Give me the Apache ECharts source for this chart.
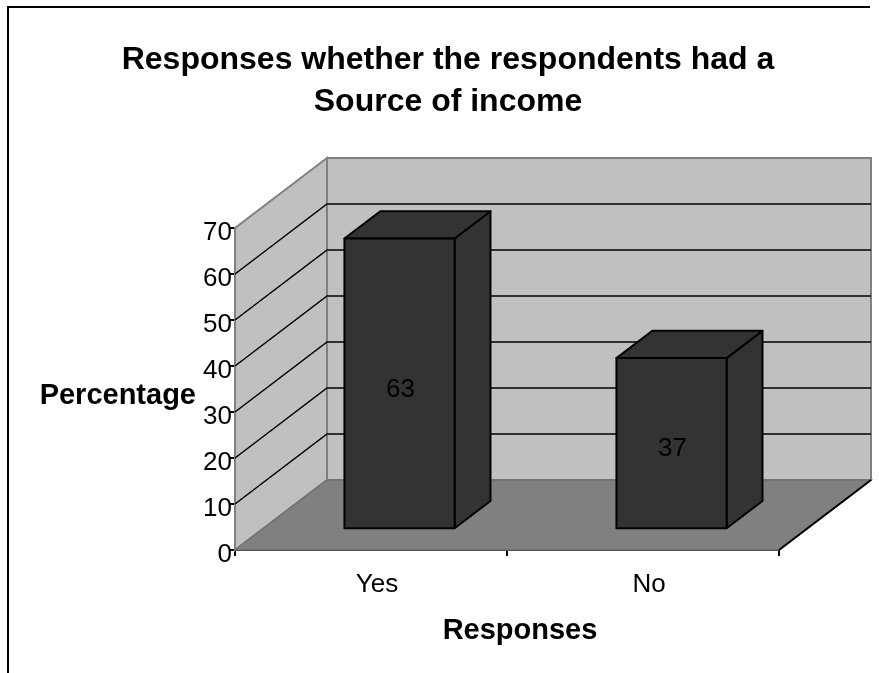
<!DOCTYPE html>
<html>
<head>
<meta charset="utf-8">
<script src="https://cdn.jsdelivr.net/npm/echarts@6/dist/echarts.min.js"></script>
<style>
  html, body { margin: 0; padding: 0; background: #fff; }
  #chart { width: 879px; height: 673px; }
</style>
</head>
<body>
<div id="chart"></div>
<script>
// Survey answers: share of respondents with a source of income
const categories = ['Yes', 'No'];
const percentages = [63, 37];
const valueMin = 0;
const valueMax = 70;
const valueStep = 10;

const FONT = '"Liberation Sans", Arial, sans-serif';
// Perspective offset from the front plane to the back wall (pixels)
const DEPTH = { x: 92, y: -70 };
// Bars sit inside the floor depth between these fractions
const BAR_DEPTH_FRONT = 0.31;
const BAR_DEPTH_BACK = 0.70;
const BAR_WIDTH_RATIO = 0.405;

const chart = echarts.init(document.getElementById('chart'), null, { renderer: 'canvas' });

function chamberRender(params, api) {
  const r = params.coordSys;
  const dx = DEPTH.x, dy = DEPTH.y;
  const x0 = r.x, x1 = r.x + r.width;
  const yb = api.coord([0, valueMin])[1];
  const yt = api.coord([0, valueMax])[1];
  const children = [];
  // back wall
  children.push({ type: 'rect', shape: { x: x0 + dx, y: yt + dy, width: r.width, height: yb - yt },
    style: { fill: '#c0c0c0', stroke: '#808080', lineWidth: 2 } });
  // left side wall
  children.push({ type: 'polygon', shape: { points: [[x0, yb], [x0, yt], [x0 + dx, yt + dy], [x0 + dx, yb + dy]] },
    style: { fill: '#c0c0c0', stroke: '#808080', lineWidth: 2 } });
  // floor
  children.push({ type: 'polygon', shape: { points: [[x0, yb], [x1, yb], [x1 + dx, yb + dy], [x0 + dx, yb + dy]] },
    style: { fill: '#808080', stroke: '#707070', lineWidth: 1.5 } });
  // floor right edge
  children.push({ type: 'line', shape: { x1: x1, y1: yb, x2: x1 + dx, y2: yb + dy },
    style: { stroke: '#000', lineWidth: 2 } });
  // gridlines across the side and back walls
  for (let v = valueMin + valueStep; v < valueMax; v += valueStep) {
    const y = api.coord([0, v])[1];
    children.push({ type: 'polyline', shape: { points: [[x0, y], [x0 + dx, y + dy], [x1 + dx, y + dy]] },
      style: { stroke: '#000', lineWidth: 1.5, fill: null } });
  }
  return { type: 'group', children: children, silent: true };
}

function barRender(params, api) {
  const ci = api.value(0);
  const v = api.value(1);
  const base = api.coord([ci, valueMin]);
  const top = api.coord([ci, v]);
  const band = api.size([1, 0])[0];
  const w = band * BAR_WIDTH_RATIO;
  const fx = DEPTH.x * BAR_DEPTH_FRONT, fy = DEPTH.y * BAR_DEPTH_FRONT;
  const bx = DEPTH.x * BAR_DEPTH_BACK, by = DEPTH.y * BAR_DEPTH_BACK;
  const xl = base[0] - w / 2, xr = base[0] + w / 2;
  const yb = base[1], yt = top[1];
  const face = { fill: '#333333', stroke: '#000', lineWidth: 2, lineJoin: 'round' };
  return {
    type: 'group',
    children: [
      { type: 'polygon', shape: { points: [[xr + fx, yt + fy], [xr + bx, yt + by], [xr + bx, yb + by], [xr + fx, yb + fy]] }, style: face },
      { type: 'polygon', shape: { points: [[xl + fx, yt + fy], [xr + fx, yt + fy], [xr + bx, yt + by], [xl + bx, yt + by]] }, style: face },
      { type: 'rect', shape: { x: xl + fx, y: yt + fy, width: w, height: yb - yt }, style: face },
      { type: 'text', style: { text: String(v), x: base[0] + fx + 1, y: (yt + yb) / 2 + fy + 6,
          textAlign: 'center', textVerticalAlign: 'middle', fill: '#000', font: '26px ' + FONT } }
    ]
  };
}

chart.setOption({
  animation: false,
  backgroundColor: '#fff',
  title: {
    text: 'Responses whether the respondents had a\nSource of income',
    left: 448,
    top: 39,
    padding: 0,
    textAlign: 'center',
    textStyle: { fontFamily: FONT, fontWeight: 'bold', fontSize: 32, lineHeight: 42, color: '#000' }
  },
  graphic: [
    { type: 'polyline', shape: { points: [[8, 673], [8, 7], [870, 7]] }, style: { stroke: '#000', lineWidth: 2, fill: null }, z: 100 }
  ],
  grid: { left: 235, right: 100, top: 228, bottom: 123, containLabel: false },
  xAxis: {
    type: 'category',
    data: categories,
    boundaryGap: true,
    name: 'Responses',
    nameLocation: 'middle',
    nameGap: 66,
    nameTextStyle: { fontFamily: FONT, fontWeight: 'bold', fontSize: 29, color: '#000', padding: [0, 0, 0, 26] },
    axisLine: { show: true, onZero: false, lineStyle: { color: '#000', width: 2 } },
    axisTick: { show: true, alignWithLabel: false, length: 6, lineStyle: { color: '#000', width: 2 } },
    axisLabel: { margin: 22, fontFamily: FONT, fontSize: 26, color: '#000', padding: [0, 0, 0, 12] },
    splitLine: { show: false }
  },
  yAxis: {
    type: 'value',
    min: valueMin,
    max: valueMax,
    interval: valueStep,
    name: 'Percentage',
    nameLocation: 'middle',
    nameRotate: 0,
    nameGap: 39,
    nameTextStyle: { fontFamily: FONT, fontWeight: 'bold', fontSize: 29, color: '#000', align: 'right', verticalAlign: 'top', lineHeight: 14 },
    axisLine: { show: true, lineStyle: { color: '#000', width: 2 } },
    axisTick: { show: true, length: 5, lineStyle: { color: '#000', width: 2 } },
    axisLabel: { margin: 3, fontFamily: FONT, fontSize: 26, color: '#000', verticalAlign: 'top', lineHeight: 9 },
    splitLine: { show: false }
  },
  series: [
    { type: 'custom', name: 'chamber', renderItem: chamberRender, data: [[0, 0]], z: 1, silent: true, clip: false },
    { type: 'custom', name: 'Responses', renderItem: barRender, data: categories.map((c, i) => [i, percentages[i]]), z: 2, clip: false }
  ]
});
</script>
</body>
</html>
